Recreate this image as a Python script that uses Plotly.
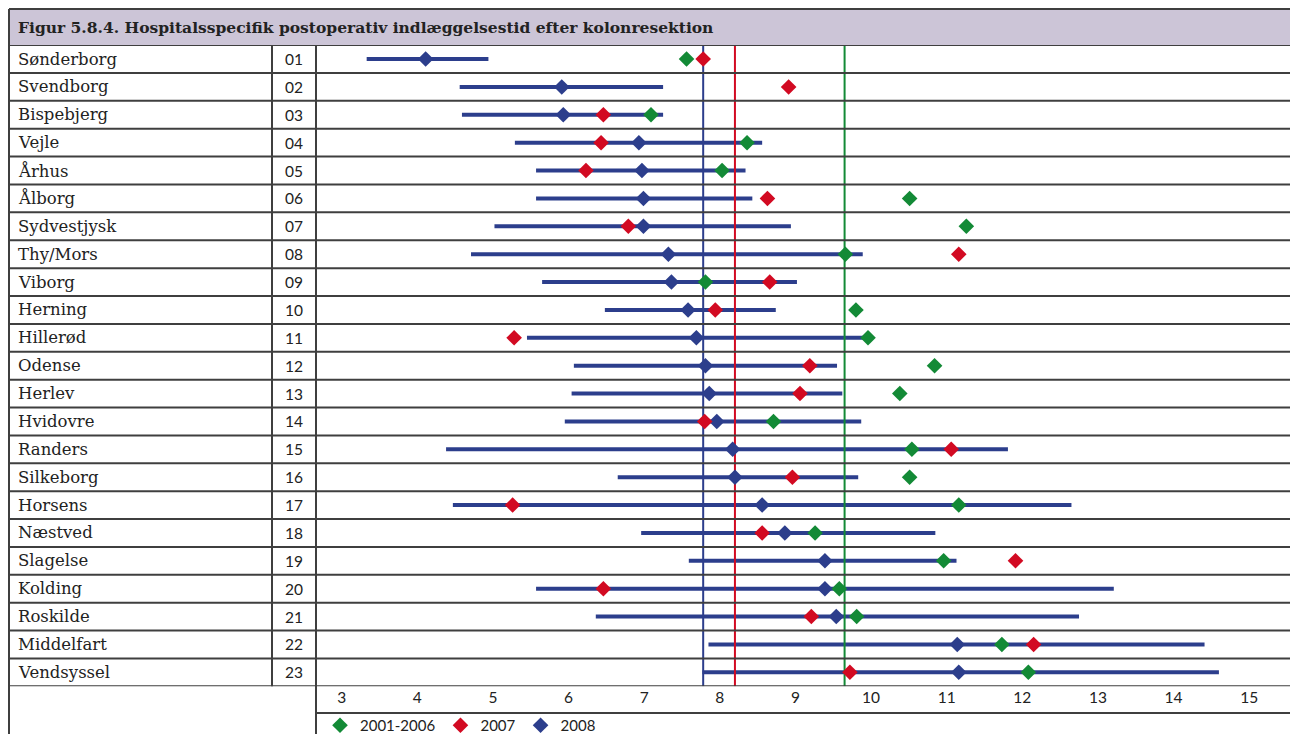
import plotly.graph_objects as go

# ---------------- data ----------------
hospitals = ["Sønderborg", "Svendborg", "Bispebjerg", "Vejle", "Århus", "Ålborg",
             "Sydvestjysk", "Thy/Mors", "Viborg", "Herning", "Hillerød", "Odense",
             "Herlev", "Hvidovre", "Randers", "Silkeborg", "Horsens", "Næstved",
             "Slagelse", "Kolding", "Roskilde", "Middelfart", "Vendsyssel"]
codes = ["01", "02", "03", "04", "05", "06", "07", "08", "09", "10", "11", "12",
         "13", "14", "15", "16", "17", "18", "19", "20", "21", "22", "23"]

val_2008 = [4.11, 5.91, 5.93, 6.93, 6.97, 6.99, 6.99, 7.32, 7.36, 7.58, 7.69, 7.81,
            7.86, 7.96, 8.17, 8.20, 8.56, 8.86, 9.39, 9.39, 9.54, 11.14, 11.16]
low_2008 = [3.33, 4.56, 4.59, 5.29, 5.57, 5.57, 5.02, 4.71, 5.65, 6.48, 5.45, 6.07,
            6.04, 5.95, 4.38, 6.65, 4.47, 6.96, 7.59, 5.57, 6.36, 7.85, 7.77]
high_2008 = [4.94, 7.25, 7.25, 8.56, 8.34, 8.43, 8.94, 9.89, 9.02, 8.74, 9.90, 9.55,
             9.62, 9.87, 11.81, 9.83, 12.65, 10.85, 11.13, 13.21, 12.75, 14.41, 14.60]
val_2007 = [7.78, 8.91, 6.46, 6.43, 6.23, 8.63, 6.79, 11.16, 8.66, 7.94, 5.28, 9.19,
            9.06, 7.80, 11.06, 8.96, 5.26, 8.56, 11.91, 6.46, 9.21, 12.15, 9.72]
val_0106 = [7.56, None, 7.09, 8.36, 8.03, 10.51, 11.26, 9.66, 7.81, 9.80, 9.96, 10.84,
            10.38, 8.71, 10.54, 10.51, 11.16, 9.26, 10.96, 9.58, 9.81, 11.73, 12.08]

mean_2008 = 7.78
mean_2007 = 8.20
mean_0106 = 9.65

x_ticks = [3, 4, 5, 6, 7, 8, 9, 10, 11, 12, 13, 14, 15]
title_text = "Figur 5.8.4. Hospitalsspecifik postoperativ indlæggelsestid efter kolonresektion"

# ---------------- style ----------------
W, H = 1290, 734          # reference picture size (layout coordinates)
FIG_H = 742               # rendered height (compensates viewport scaling)
BLUE = "#2C3E8C"
RED = "#D20A22"
GREEN = "#138A36"
GRID = "#3F3F3F"
SERIF = "DejaVu Serif"
SANS = "Lato"


def px(x):
    """pixel x -> paper fraction"""
    return x / W


def py(y):
    """pixel y -> paper fraction"""
    return 1 - y / H


rows = list(range(1, len(hospitals) + 1))

fig = go.Figure()

# confidence intervals for 2008
fig.add_trace(go.Scatter(
    x=val_2008, y=rows, mode="markers",
    marker=dict(size=2, color="rgba(0,0,0,0)"),
    error_x=dict(type="data", symmetric=False,
                 array=[h - v for h, v in zip(high_2008, val_2008)],
                 arrayminus=[v - l for v, l in zip(val_2008, low_2008)],
                 width=0, thickness=4, color=BLUE),
    showlegend=False, hoverinfo="skip"))

# reference (mean) lines
for m, c in [(mean_2008, BLUE), (mean_2007, RED), (mean_0106, GREEN)]:
    fig.add_trace(go.Scatter(x=[m, m], y=[0.5, len(rows) + 0.5], mode="lines",
                             line=dict(color=c, width=2), showlegend=False,
                             hoverinfo="skip"))

# diamonds
fig.add_trace(go.Scatter(x=val_2008, y=rows, mode="markers", name="2008",
                         marker=dict(symbol="diamond", size=12, color=BLUE),
                         legendrank=3))
fig.add_trace(go.Scatter(x=val_2007, y=rows, mode="markers", name="2007",
                         marker=dict(symbol="diamond", size=12, color=RED),
                         legendrank=2))
fig.add_trace(go.Scatter(x=val_0106, y=rows, mode="markers", name="2001-2006",
                         marker=dict(symbol="diamond", size=12, color=GREEN),
                         legendrank=1))

shapes = []
# title bar
shapes.append(dict(type="rect", xref="paper", yref="paper",
                   x0=px(9), x1=1, y0=py(45), y1=py(9),
                   fillcolor="#CCC5D7", line=dict(width=0), layer="below"))
shapes.append(dict(type="line", xref="paper", yref="paper",
                   x0=px(9), x1=1, y0=py(9), y1=py(9),
                   line=dict(color=GRID, width=2)))
# row separators
for k in range(len(rows) + 1):
    shapes.append(dict(type="line", xref="paper", yref="y",
                       x0=px(9), x1=1, y0=k + 0.5, y1=k + 0.5,
                       line=dict(color=GRID, width=2)))
# vertical borders
shapes.append(dict(type="line", xref="paper", yref="paper",
                   x0=px(9), x1=px(9), y0=0, y1=py(9),
                   line=dict(color=GRID, width=2)))
shapes.append(dict(type="line", xref="paper", yref="paper",
                   x0=px(272), x1=px(272), y0=py(684.4), y1=py(45),
                   line=dict(color=GRID, width=2)))
shapes.append(dict(type="line", xref="paper", yref="paper",
                   x0=px(316), x1=px(316), y0=0, y1=py(45),
                   line=dict(color=GRID, width=2)))
# line under tick labels
shapes.append(dict(type="line", xref="paper", yref="paper",
                   x0=px(316), x1=1, y0=py(711), y1=py(711),
                   line=dict(color=GRID, width=2)))

annotations = [dict(xref="paper", yref="paper", x=px(16), y=py(27),
                    xanchor="left", yanchor="middle", showarrow=False,
                    text="<b>" + title_text + "</b>",
                    font=dict(family=SERIF, size=15.5, color="#222222"))]
for i, (name, code) in enumerate(zip(hospitals, codes), start=1):
    annotations.append(dict(xref="paper", yref="y", x=px(16), y=i,
                            xanchor="left", yanchor="middle", showarrow=False,
                            text=name,
                            font=dict(family=SERIF, size=16.5, color="#222222")))
    annotations.append(dict(xref="paper", yref="y", x=px(294), y=i,
                            xanchor="center", yanchor="middle", showarrow=False,
                            text=code,
                            font=dict(family=SANS, size=15.5, color="#222222")))

fig.update_layout(
    width=W, height=FIG_H,
    margin=dict(l=0, r=0, t=0, b=0),
    paper_bgcolor="white", plot_bgcolor="rgba(0,0,0,0)",
    xaxis=dict(domain=[px(316), 1], range=[2.66, 15.54], tickvals=x_ticks,
               showgrid=False, zeroline=False, showline=False, ticks="",
               tickfont=dict(family=SANS, size=15.5, color="#222222"),
               fixedrange=True),
    yaxis=dict(domain=[py(684.4), py(45)], range=[len(rows) + 0.5, 0.5],
               visible=False, fixedrange=True),
    shapes=shapes,
    annotations=annotations,
    showlegend=True,
    legend=dict(orientation="h", x=px(320), y=py(724), xanchor="left",
                yanchor="middle", bgcolor="rgba(0,0,0,0)",
                font=dict(family=SANS, size=15, color="#222222"),
                itemclick=False, itemdoubleclick=False),
)

page_fix = (
    "document.body.style.margin='0';"
    "document.body.style.padding='0';"
    "document.body.style.overflow='hidden';"
    "document.documentElement.style.overflow='hidden';"
)

fig.write_html("out.html", config={"displayModeBar": False}, post_script=page_fix)
